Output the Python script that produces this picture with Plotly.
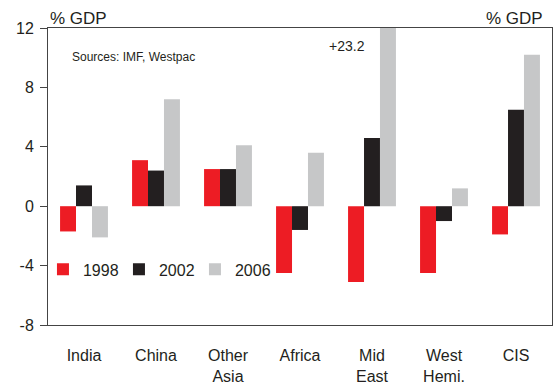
import plotly.graph_objects as go

# Current account balances by region, % of GDP
regions = ["India", "China", "Other<br>Asia", "Africa", "Mid<br>East", "West<br>Hemi.", "CIS"]
years = ["1998", "2002", "2006"]
values_1998 = [-1.7, 3.1, 2.5, -4.5, -5.1, -4.5, -1.9]
values_2002 = [1.4, 2.4, 2.5, -1.6, 4.6, -1.0, 6.5]
values_2006 = [-2.1, 7.2, 4.1, 3.6, 23.2, 1.2, 10.2]
series_colors = ["#ED1C24", "#231F20", "#C6C7C8"]

y_ticks = [-8, -4, 0, 4, 8, 12]
y_min, y_max = -8, 12

FONT = "Liberation Sans, Arial, sans-serif"
TEXT = "#231F20"
LINE = "#444444"

fig = go.Figure()
for name, vals, col in zip(years, [values_1998, values_2002, values_2006], series_colors):
    fig.add_trace(go.Bar(
        x=regions, y=vals, name=name,
        marker=dict(color=col, line=dict(width=0)),
    ))

# Off-scale value printed above the clipped bar
off_scale = values_2006[4]
fig.add_annotation(
    x=regions[4], y=10.8, xref="x", yref="y", xshift=-25,
    text=f"+{off_scale:.1f}", showarrow=False,
    font=dict(family=FONT, size=14, color=TEXT),
)
fig.add_annotation(
    x=0.044, y=0.903, xref="paper", yref="paper",
    xanchor="left", yanchor="middle",
    text="Sources: IMF, Westpac", showarrow=False,
    font=dict(family=FONT, size=12, color=TEXT),
)
for xp, anchor in [(0.0, "left"), (0.986, "right")]:
    fig.add_annotation(
        x=xp, y=1.0, xref="paper", yref="paper",
        xanchor=anchor, yanchor="bottom", yshift=-2,
        text="% GDP", showarrow=False,
        font=dict(family=FONT, size=17, color=TEXT),
    )

n = len(regions)
fig.update_layout(
    width=556, height=388, autosize=False,
    margin=dict(l=48, r=3, t=28, b=61),
    paper_bgcolor="white", plot_bgcolor="white",
    barmode="group", bargap=0.335, bargroupgap=0,
    font=dict(family=FONT, size=16, color=TEXT),
    showlegend=True,
    legend=dict(
        orientation="h", x=-0.01, y=0.187, xanchor="left", yanchor="middle",
        bgcolor="rgba(0,0,0,0)", font=dict(family=FONT, size=16, color=TEXT),
        itemwidth=30, entrywidth=31, tracegroupgap=0,
    ),
    xaxis=dict(
        type="category", categoryorder="array", categoryarray=regions,
        range=[-0.5, n - 0.5],
        showline=True, linecolor=LINE, linewidth=1, mirror=True,
        ticks="", showgrid=False, zeroline=False,
        tickfont=dict(family=FONT, size=16, color=TEXT),
        ticklabelstandoff=16,
    ),
    # zero line with category-boundary ticks
    xaxis2=dict(
        overlaying="x", anchor="free",
        position=(0 - y_min) / (y_max - y_min),
        range=[-0.5, n - 0.5], tickmode="linear", tick0=-0.5, dtick=1,
        ticks="outside", ticklen=5, tickcolor=LINE,
        showticklabels=False, showline=True, linecolor=LINE, linewidth=1,
        showgrid=False, zeroline=False,
    ),
    yaxis=dict(
        range=[y_min, y_max], tickmode="array", tickvals=y_ticks,
        ticktext=[str(v) for v in y_ticks],
        ticks="outside", ticklen=7, tickcolor=LINE,
        showline=True, linecolor=LINE, linewidth=1, mirror=True,
        showgrid=False, zeroline=False,
        tickfont=dict(family=FONT, size=16, color=TEXT),
        ticklabelstandoff=3,
    ),
)

fig.write_html("out.html")
